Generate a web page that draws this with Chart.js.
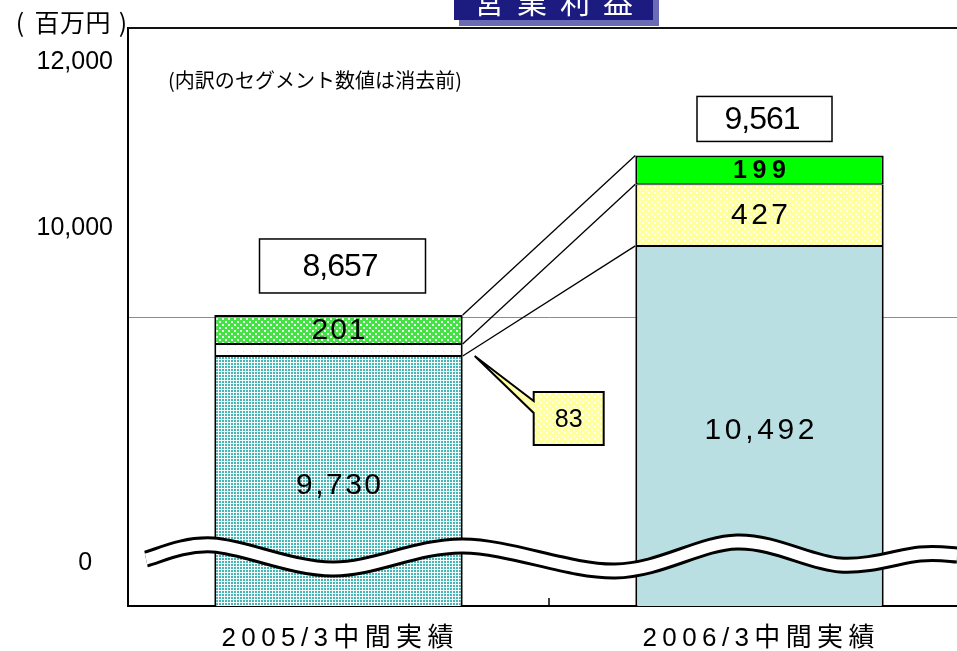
<!DOCTYPE html>
<html>
<head>
<meta charset="utf-8">
<script src="https://cdn.jsdelivr.net/npm/chart.js@4/dist/chart.umd.min.js"></script>
<style>
  html, body { margin: 0; padding: 0; background: #fff; overflow: hidden; }
  #wrap { position: relative; width: 980px; height: 651px; }
</style>
</head>
<body>
<div id="wrap"><canvas id="c" width="980" height="651"></canvas></div>
<script>
// values (百万円)
const categories = ['2005/3中間実績', '2006/3中間実績'];
const baseSeg = [9730, 10492];
const midSeg = [83, 427];
const topSeg = [201, 199];
const totals = [8657, 9561];
// the axis is broken: labels sit where the original put them
const tickLabels = ['0   ', '10,000', '12,000'];
const tickAt = [8300, 10615, 11765];
const gridAt = 10000;

const NUM = '"Liberation Sans", Arial, "Noto Sans CJK JP", sans-serif';
const JP = '"Noto Sans CJK JP", "Liberation Sans", sans-serif';

function makePattern(w, h, bg, fg, cells) {
    const c = document.createElement('canvas');
    c.width = w; c.height = h;
    const g = c.getContext('2d');
    g.fillStyle = bg; g.fillRect(0, 0, w, h);
    g.fillStyle = fg;
    cells.forEach(([px, py, cw, ch]) => g.fillRect(px, py, cw, ch));
    return g.createPattern(c, 'repeat');
}

const tealDots = makePattern(3, 3, '#f4fbfb', '#45b5b5', [[0, 0, 2, 2]]);
const paleDots = makePattern(8, 6, '#ffffff', '#eeee88', [[3, 3, 1, 1]]);
const greenHatch = makePattern(6, 6, '#44e244', '#eaffea', [[0, 0, 2, 2], [3, 3, 2, 2]]);
const yellowHatch = makePattern(6, 6, '#ffff9c', '#fffff0', [[0, 0, 2, 2], [3, 3, 2, 2]]);

function fitText(ctx, str, cx, cy, font, w, color) {
    ctx.font = font;
    ctx.letterSpacing = '0px';
    const nat = ctx.measureText(str).width;
    const n = [...str].length;
    const sp = n > 1 ? (w - nat) / (n - 1) : 0;
    ctx.letterSpacing = sp + 'px';
    ctx.textAlign = 'left';
    ctx.textBaseline = 'middle';
    ctx.fillStyle = color || '#000';
    ctx.fillText(str, cx - (n > 1 ? w : nat) / 2, cy);
    ctx.letterSpacing = '0px';
}

function line(ctx, x1, y1, x2, y2, w, col) {
    ctx.beginPath();
    ctx.moveTo(x1, y1); ctx.lineTo(x2, y2);
    ctx.lineWidth = w; ctx.strokeStyle = col || '#000';
    ctx.stroke();
}

function smooth(ctx, pts) {
    ctx.beginPath();
    ctx.moveTo(pts[0][0], pts[0][1]);
    for (let i = 0; i < pts.length - 1; i++) {
        const p0 = pts[i - 1] || pts[i], p1 = pts[i], p2 = pts[i + 1], p3 = pts[i + 2] || p2;
        ctx.bezierCurveTo(
            p1[0] + (p2[0] - p0[0]) / 6, p1[1] + (p2[1] - p0[1]) / 6,
            p2[0] - (p3[0] - p1[0]) / 6, p2[1] - (p3[1] - p1[1]) / 6,
            p2[0], p2[1]);
    }
}

const decor = {
    id: 'decor',
    afterDraw(chart) {
        const { ctx, chartArea: a, scales: { x } } = chart;
        const meta = [0, 1, 2].map(i => chart.getDatasetMeta(i).data);
        ctx.save();

        // frame top line
        line(ctx, a.left, a.top, chart.width, a.top, 2, '#111');

        // small inward tick between the two categories
        const bx = (x.getPixelForValue(0) + x.getPixelForValue(1)) / 2;
        line(ctx, bx, a.bottom - 8, bx, a.bottom, 1.5);

        // axis break (double wave)
        const wave = [[146, 559], [213, 545], [333, 569], [463, 546], [615, 571], [737, 542], [840, 565], [920, 554], [957, 555]];
        ctx.lineCap = 'butt';
        smooth(ctx, wave); ctx.lineWidth = 17; ctx.strokeStyle = '#000'; ctx.stroke();
        smooth(ctx, wave); ctx.lineWidth = 11; ctx.strokeStyle = '#fff'; ctx.stroke();

        // connector lines between segment tops
        const b1 = meta.map(d => d[0]), b2 = meta.map(d => d[1]);
        const r1 = b1[0].x + b1[0].width / 2, l2 = b2[0].x - b2[0].width / 2;
        for (let i = 0; i < 3; i++) line(ctx, r1, b1[i].y, l2, b2[i].y, 1.3);

        // callout for the small segment of bar 1
        const tipX = r1 + 12, tipY = b1[1].base;
        const bl = r1 + 71, bt = tipY + 36, bw = 70, bh = 53;
        ctx.beginPath();
        ctx.moveTo(bl, bt); ctx.lineTo(bl + bw, bt); ctx.lineTo(bl + bw, bt + bh);
        ctx.lineTo(bl, bt + bh); ctx.lineTo(bl, bt + 21); ctx.lineTo(tipX, tipY);
        ctx.lineTo(bl, bt + 9); ctx.closePath();
        ctx.fillStyle = yellowHatch; ctx.fill();
        ctx.lineWidth = 2; ctx.strokeStyle = '#000'; ctx.lineJoin = 'miter'; ctx.stroke();
        fitText(ctx, midSeg[0].toLocaleString('en-US'), bl + bw / 2, bt + 28, '25px ' + NUM, 28);

        // total boxes above the bars
        const boxes = [[166, 54, 22, 4, 76], [135, 45, 14, 5, 76]];
        totals.forEach((t, j) => {
            const [w, h, gap, off, tw] = boxes[j];
            const top = meta[2][j].y;
            const cx = meta[0][j].x + off, by = top - gap - h;
            ctx.fillStyle = '#fff';
            ctx.fillRect(cx - w / 2, by, w, h);
            ctx.lineWidth = 1.5; ctx.strokeStyle = '#000';
            ctx.strokeRect(cx - w / 2, by, w, h);
            fitText(ctx, t.toLocaleString('en-US'), cx - 2, by + h / 2 + 1, '32px ' + NUM, tw);
        });

        // segment value labels
        const series = [baseSeg, midSeg, topSeg];
        const widths = [[85, 110], [0, 57], [54, 53]];
        series.forEach((vals, i) => {
            vals.forEach((v, j) => {
                if (!widths[i][j]) return;
                const el = meta[i][j];
                const yTop = Math.max(el.y, a.top), yBot = Math.min(el.base, a.bottom);
                const cy = (yTop + yBot) / 2 + (i === 0 ? 5 : 1);
                const bold = i === 2 && j === 1;
                fitText(ctx, v.toLocaleString('en-US'), el.x, cy, (bold ? 'bold 25px ' : '30px ') + NUM, widths[i][j]);
            });
        });

        // category labels
        categories.forEach((c, i) => {
            fitText(ctx, c, x.getPixelForValue(i) - 1, 639, '26px ' + NUM, 232);
        });

        // title tab (cut off at the top edge)
        ctx.fillStyle = '#6b6bb5'; ctx.fillRect(459, 0, 200, 26);
        ctx.fillStyle = '#1b1b80'; ctx.fillRect(454, 0, 199, 20);
        ctx.font = '30px ' + JP; ctx.letterSpacing = '13px';
        ctx.textAlign = 'left'; ctx.textBaseline = 'alphabetic'; ctx.fillStyle = '#fff';
        ctx.fillText('営業利益', 474, 13);
        ctx.letterSpacing = '0px';

        // unit and note
        fitText(ctx, '(', 20, 22, '25px ' + JP, 0);
        fitText(ctx, '百万円', 72.5, 22, '25px ' + JP, 76);
        fitText(ctx, ')', 123, 22, '25px ' + JP, 0);
        fitText(ctx, '(内訳のセグメント数値は消去前)', 315, 80, '20px ' + JP, 294);

        ctx.restore();
    }
};

const segBorder = { top: 1, bottom: 1, left: 2, right: 2 };

new Chart(document.getElementById('c'), {
    type: 'bar',
    data: {
        labels: categories,
        datasets: [
            { label: 'base', data: baseSeg, backgroundColor: [tealDots, '#b9dfe3'], borderWidth: segBorder },
            { label: 'mid', data: midSeg, backgroundColor: [paleDots, yellowHatch], borderWidth: segBorder },
            { label: 'top', data: topSeg, backgroundColor: [greenHatch, '#00ff00'], borderWidth: { ...segBorder, top: 2 } }
        ]
    },
    options: {
        responsive: false,
        devicePixelRatio: 1,
        animation: false,
        layout: { padding: { top: 28, right: 10, left: 0, bottom: 0 } },
        datasets: {
            bar: {
                borderColor: '#000', borderSkipped: false,
                barPercentage: 0.59, categoryPercentage: 1, clip: 0
            }
        },
        plugins: { legend: { display: false }, tooltip: { enabled: false } },
        scales: {
            x: {
                stacked: true,
                grid: { display: false },
                border: { color: '#000', width: 2 },
                ticks: { display: false },
                afterFit: s => { s.height = 45; }
            },
            y: {
                stacked: true, min: 8000, max: 12000,
                border: { color: '#000', width: 2 },
                afterBuildTicks: s => { s.ticks = [...tickAt, gridAt].sort((p, q) => p - q).map(v => ({ value: v })); },
                afterFit: s => { s.width = 128; s.paddingTop = 0; s.paddingBottom = 0; },
                grid: {
                    drawTicks: false, lineWidth: 1,
                    color: c => (c.tick && c.tick.value === gridAt) ? '#8c8c8c' : 'rgba(0,0,0,0)'
                },
                ticks: {
                    padding: 15, color: '#000', autoSkip: false,
                    font: { family: NUM, size: 25 },
                    callback: v => { const i = tickAt.indexOf(v); return i < 0 ? '' : tickLabels[i]; }
                }
            }
        }
    },
    plugins: [decor]
});
</script>
</body>
</html>
